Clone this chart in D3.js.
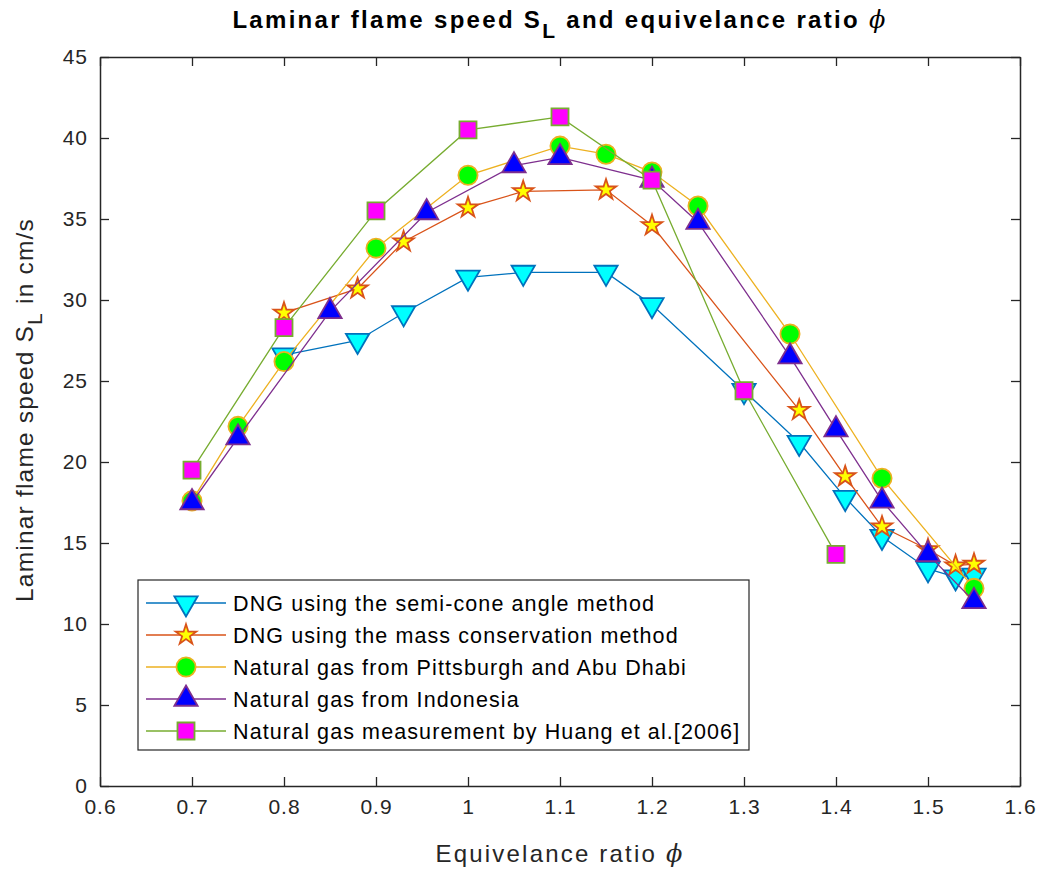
<!DOCTYPE html>
<html>
<head>
<meta charset="utf-8">
<script src="https://cdn.jsdelivr.net/npm/d3@7"></script>
<style>
  body { margin: 0; background: #fff; }
  svg { font-family: "Liberation Sans", Arial, sans-serif; }
</style>
</head>
<body>
<div id="chart"></div>
<script>
// equivalence ratio / flame speed readings, one pair of arrays per series
var semiConePhi = [0.8, 0.88, 0.93, 1.0, 1.06, 1.15, 1.2, 1.3, 1.36, 1.41, 1.45, 1.5, 1.53, 1.55];
var semiConeSL  = [26.6, 27.5, 29.2, 31.4, 31.7, 31.7, 29.7, 24.4, 21.2, 17.8, 15.4, 13.4, 12.9, 13.0];

var massPhi = [0.8, 0.88, 0.93, 1.0, 1.06, 1.15, 1.2, 1.36, 1.41, 1.45, 1.5, 1.53, 1.55];
var massSL  = [29.2, 30.7, 33.6, 35.7, 36.7, 36.8, 34.6, 23.2, 19.1, 16.0, 14.6, 13.6, 13.7];

var pittPhi = [0.7, 0.75, 0.8, 0.9, 1.0, 1.1, 1.15, 1.2, 1.25, 1.35, 1.45, 1.55];
var pittSL  = [17.6, 22.2, 26.2, 33.2, 37.7, 39.5, 39.0, 37.9, 35.8, 27.9, 19.0, 12.2];

var indoPhi = [0.7, 0.75, 0.85, 0.955, 1.05, 1.1, 1.2, 1.25, 1.35, 1.4, 1.45, 1.5, 1.55];
var indoSL  = [17.5, 21.5, 29.3, 35.4, 38.3, 38.8, 37.4, 34.8, 26.5, 22.0, 17.6, 14.3, 11.4];

var huangPhi = [0.7, 0.8, 0.9, 1.0, 1.1, 1.2, 1.3, 1.4];
var huangSL  = [19.5, 28.3, 35.5, 40.5, 41.3, 37.4, 24.4, 14.3];

var seriesNames = [
  "DNG using the semi-cone angle method",
  "DNG using the mass conservation method",
  "Natural gas from Pittsburgh and Abu Dhabi",
  "Natural gas from Indonesia",
  "Natural gas measurement by Huang et al.[2006]"
];

var xTicks = [0.6, 0.7, 0.8, 0.9, 1.0, 1.1, 1.2, 1.3, 1.4, 1.5, 1.6];
var yTicks = [0, 5, 10, 15, 20, 25, 30, 35, 40, 45];

var series = [
  { name: seriesNames[0], phi: semiConePhi, sl: semiConeSL, line: "#0072BD", fill: "#00FFFF", sym: "down" },
  { name: seriesNames[1], phi: massPhi, sl: massSL, line: "#D95319", fill: "#FFFF00", sym: "star" },
  { name: seriesNames[2], phi: pittPhi, sl: pittSL, line: "#EDB120", fill: "#00FF00", sym: "circle" },
  { name: seriesNames[3], phi: indoPhi, sl: indoSL, line: "#7E2F8E", fill: "#0000FF", sym: "up" },
  { name: seriesNames[4], phi: huangPhi, sl: huangSL, line: "#77AC30", fill: "#FF00FF", sym: "square" }
];

var margin = { top: 57, right: 17, bottom: 85, left: 100 },
  W = 1037, H = 871,
  width = W - margin.left - margin.right,
  height = H - margin.top - margin.bottom;

var x = d3.scaleLinear().domain([0.6, 1.6]).range([0, width]);
var y = d3.scaleLinear().domain([0, 45]).range([height, 0]);

var svg = d3.select("#chart").append("svg")
  .attr("width", W)
  .attr("height", H);

var g = svg.append("g")
  .attr("transform", "translate(" + margin.left + "," + margin.top + ")");

function markerPath(sym) {
  if (sym == "circle") return d3.symbol(d3.symbolCircle, 290)();
  if (sym == "square") return d3.symbol(d3.symbolSquare, 290)();
  if (sym == "star") return d3.symbol(d3.symbolStar, 130)();
  return d3.symbol(d3.symbolTriangle, 235)();
}

function drawMarker(sel, s) {
  sel.append("path")
    .attr("d", markerPath(s.sym))
    .attr("transform", s.sym == "down" ? "rotate(180)" : null)
    .style("fill", s.fill)
    .style("stroke", s.line)
    .style("stroke-width", 1.8);
}

// axes
var tick = 9;
var xAxis = g.append("g")
  .attr("transform", "translate(0," + height + ")")
  .call(d3.axisBottom(x).tickValues(xTicks).tickSizeInner(-tick).tickSizeOuter(0)
    .tickPadding(13).tickFormat(d3.format("")));
var yAxis = g.append("g")
  .call(d3.axisLeft(y).tickValues(yTicks).tickSizeInner(-tick).tickSizeOuter(0)
    .tickPadding(12));
var xTop = g.append("g")
  .call(d3.axisTop(x).tickValues(xTicks).tickSizeInner(-tick).tickSizeOuter(0).tickFormat(""));
var yRight = g.append("g")
  .attr("transform", "translate(" + width + ",0)")
  .call(d3.axisRight(y).tickValues(yTicks).tickSizeInner(-tick).tickSizeOuter(0).tickFormat(""));

[xAxis, yAxis, xTop, yRight].forEach(function (a) {
  a.selectAll("path").style("stroke", "#262626").style("stroke-width", 1.5);
  a.selectAll("line").style("stroke", "#262626").style("stroke-width", 1.3);
  a.selectAll("text").style("font-size", "21px").style("fill", "#262626")
    .style("letter-spacing", "1px")
    .style("font-family", "'Liberation Sans', Arial, sans-serif");
});
xAxis.selectAll("text").attr("dy", "0.71em");

// lines + markers
series.forEach(function (s) {
  var pts = s.phi.map(function (p, i) { return [p, s.sl[i]]; });
  var line = d3.line()
    .x(function (d) { return x(d[0]); })
    .y(function (d) { return y(d[1]); });
  g.append("path")
    .datum(pts)
    .attr("d", line)
    .style("fill", "none")
    .style("stroke", s.line)
    .style("stroke-width", 1.3);
  g.selectAll(null)
    .data(pts)
    .enter().append("g")
    .attr("transform", function (d) { return "translate(" + x(d[0]) + "," + y(d[1]) + ")"; })
    .each(function () { drawMarker(d3.select(this), s); });
});

// legend
var lg = svg.append("g").attr("transform", "translate(138,580)");
lg.append("rect")
  .attr("width", 611).attr("height", 170)
  .style("fill", "#fff").style("stroke", "#262626").style("stroke-width", 1.2);
series.forEach(function (s, i) {
  var row = lg.append("g").attr("transform", "translate(0," + (23 + i * 32) + ")");
  row.append("line")
    .attr("x1", 8).attr("x2", 88)
    .style("stroke", s.line).style("stroke-width", 1.3);
  drawMarker(row.append("g").attr("transform", "translate(48,0)"), s);
  row.append("text")
    .attr("x", 95).attr("dy", "0.35em")
    .style("font-size", "21.5px").style("letter-spacing", "1.1px").style("fill", "#000")
    .text(s.name);
});

// title
var title = svg.append("text")
  .attr("x", margin.left + width / 2)
  .attr("y", 28)
  .attr("text-anchor", "middle")
  .style("font-size", "24px")
  .style("letter-spacing", "2.3px")
  .style("font-weight", "bold")
  .style("fill", "#000");
title.append("tspan").text("Laminar flame speed S");
title.append("tspan").attr("dy", 10).style("font-size", "21px").text("L");
title.append("tspan").attr("dy", -10).text(" and equivelance ratio ");
title.append("tspan").style("font-family", "'DejaVu Serif', serif").style("font-style", "italic")
  .style("font-weight", "normal").text("\u03d5");

// x label
var xl = svg.append("text")
  .attr("x", margin.left + width / 2)
  .attr("y", 862)
  .attr("text-anchor", "middle")
  .style("font-size", "24px")
  .style("letter-spacing", "2.2px")
  .style("fill", "#262626");
xl.append("tspan").text("Equivelance ratio ");
xl.append("tspan").style("font-family", "'DejaVu Serif', serif").style("font-style", "italic").text("\u03d5");

// y label
var yl = svg.append("text")
  .attr("transform", "translate(33," + (margin.top + 353) + ") rotate(-90)")
  .attr("text-anchor", "middle")
  .style("font-size", "24.5px")
  .style("letter-spacing", "1.2px")
  .style("fill", "#262626");
yl.append("tspan").text("Laminar flame speed S");
yl.append("tspan").attr("dy", 9).style("font-size", "21px").text("L");
yl.append("tspan").attr("dy", -9).text(" in cm/s");
</script>
</body>
</html>
